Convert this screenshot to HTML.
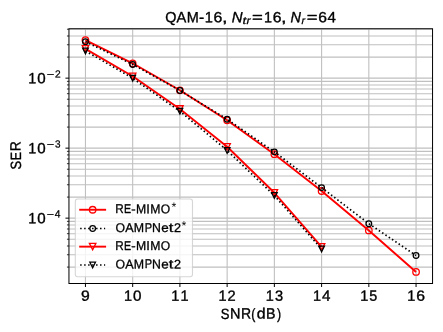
<!DOCTYPE html>
<html lang="en">
<head>
<meta charset="utf-8">
<title>QAM-16 SER vs SNR</title>
<style>
html,body{margin:0;padding:0;background:#ffffff;}
body{width:443px;height:332px;overflow:hidden;position:relative;font-family:"Liberation Sans",sans-serif;}
</style>
</head>
<body>
<svg width="443" height="332" viewBox="0 0 443 332" style="display:block;position:absolute;left:0;top:0;will-change:transform">
<rect x="0" y="0" width="443" height="332" fill="#ffffff"/>
<path d="M85.45 28.75V283.5M132.68 28.75V283.5M179.91 28.75V283.5M227.14 28.75V283.5M274.37 28.75V283.5M321.6 28.75V283.5M368.83 28.75V283.5M416.06 28.75V283.5M68.95 78.15H432.55M68.95 148.15H432.55M68.95 218.15H432.55M68.95 267.08H432.55M68.95 254.75H432.55M68.95 246.01H432.55M68.95 239.22H432.55M68.95 233.68H432.55M68.95 228.99H432.55M68.95 224.93H432.55M68.95 221.35H432.55M68.95 197.08H432.55M68.95 184.75H432.55M68.95 176.01H432.55M68.95 169.22H432.55M68.95 163.68H432.55M68.95 158.99H432.55M68.95 154.93H432.55M68.95 151.35H432.55M68.95 127.08H432.55M68.95 114.75H432.55M68.95 106.01H432.55M68.95 99.22H432.55M68.95 93.68H432.55M68.95 88.99H432.55M68.95 84.93H432.55M68.95 81.35H432.55M68.95 57.08H432.55M68.95 44.75H432.55M68.95 36.01H432.55M68.95 29.22H432.55" stroke="#c0c0c0" stroke-width="1.1" fill="none"/>
<path d="M85.45 283.5v3.5M132.68 283.5v3.5M179.91 283.5v3.5M227.14 283.5v3.5M274.37 283.5v3.5M321.6 283.5v3.5M368.83 283.5v3.5M416.06 283.5v3.5M68.95 78.15h-3.5M68.95 148.15h-3.5M68.95 218.15h-3.5" stroke="#000" stroke-width="1.0" fill="none"/>
<path d="M68.95 267.08h-2M68.95 254.75h-2M68.95 246.01h-2M68.95 239.22h-2M68.95 233.68h-2M68.95 228.99h-2M68.95 224.93h-2M68.95 221.35h-2M68.95 197.08h-2M68.95 184.75h-2M68.95 176.01h-2M68.95 169.22h-2M68.95 163.68h-2M68.95 158.99h-2M68.95 154.93h-2M68.95 151.35h-2M68.95 127.08h-2M68.95 114.75h-2M68.95 106.01h-2M68.95 99.22h-2M68.95 93.68h-2M68.95 88.99h-2M68.95 84.93h-2M68.95 81.35h-2M68.95 57.08h-2M68.95 44.75h-2M68.95 36.01h-2M68.95 29.22h-2" stroke="#000" stroke-width="0.8" fill="none"/>
<clipPath id="c"><rect x="68.95" y="28.75" width="363.6" height="254.75"/></clipPath>
<g clip-path="url(#c)"><polyline points="85.45,40.10 132.68,63.30 179.91,90.30 227.14,120.30 274.37,154.20 321.60,191.00 368.83,230.45 416.06,271.95" fill="none" stroke="#ff0000" stroke-width="1.9" stroke-linejoin="round"/><circle cx="85.45" cy="40.10" r="3.25" fill="none" stroke="#ff0000" stroke-width="1.3"/><circle cx="132.68" cy="63.30" r="3.25" fill="none" stroke="#ff0000" stroke-width="1.3"/><circle cx="179.91" cy="90.30" r="3.25" fill="none" stroke="#ff0000" stroke-width="1.3"/><circle cx="227.14" cy="120.30" r="3.25" fill="none" stroke="#ff0000" stroke-width="1.3"/><circle cx="274.37" cy="154.20" r="3.25" fill="none" stroke="#ff0000" stroke-width="1.3"/><circle cx="321.60" cy="191.00" r="3.25" fill="none" stroke="#ff0000" stroke-width="1.3"/><circle cx="368.83" cy="230.45" r="3.25" fill="none" stroke="#ff0000" stroke-width="1.3"/><circle cx="416.06" cy="271.95" r="3.25" fill="none" stroke="#ff0000" stroke-width="1.3"/></g>
<g clip-path="url(#c)"><polyline points="85.45,41.70 132.68,64.40 179.91,90.50 227.14,119.25 274.37,151.85 321.60,187.60 368.83,223.70 416.06,255.50" fill="none" stroke="#000000" stroke-width="1.7" stroke-linejoin="round" stroke-dasharray="1.5 2.475"/><circle cx="85.45" cy="41.70" r="2.825" fill="none" stroke="#000000" stroke-width="1.3"/><circle cx="132.68" cy="64.40" r="2.825" fill="none" stroke="#000000" stroke-width="1.3"/><circle cx="179.91" cy="90.50" r="2.825" fill="none" stroke="#000000" stroke-width="1.3"/><circle cx="227.14" cy="119.25" r="2.825" fill="none" stroke="#000000" stroke-width="1.3"/><circle cx="274.37" cy="151.85" r="2.825" fill="none" stroke="#000000" stroke-width="1.3"/><circle cx="321.60" cy="187.60" r="2.825" fill="none" stroke="#000000" stroke-width="1.3"/><circle cx="368.83" cy="223.70" r="2.825" fill="none" stroke="#000000" stroke-width="1.3"/><circle cx="416.06" cy="255.50" r="2.825" fill="none" stroke="#000000" stroke-width="1.3"/></g>
<g clip-path="url(#c)"><polyline points="85.45,48.90 132.68,76.30 179.91,109.00 227.14,146.80 274.37,192.80 321.60,246.80" fill="none" stroke="#ff0000" stroke-width="1.9" stroke-linejoin="round"/><path d="M82.20 45.65H88.70L85.45 52.15Z" fill="none" stroke="#ff0000" stroke-width="1.3" stroke-linejoin="miter"/><path d="M129.43 73.05H135.93L132.68 79.55Z" fill="none" stroke="#ff0000" stroke-width="1.3" stroke-linejoin="miter"/><path d="M176.66 105.75H183.16L179.91 112.25Z" fill="none" stroke="#ff0000" stroke-width="1.3" stroke-linejoin="miter"/><path d="M223.89 143.55H230.39L227.14 150.05Z" fill="none" stroke="#ff0000" stroke-width="1.3" stroke-linejoin="miter"/><path d="M271.12 189.55H277.62L274.37 196.05Z" fill="none" stroke="#ff0000" stroke-width="1.3" stroke-linejoin="miter"/><path d="M318.35 243.55H324.85L321.60 250.05Z" fill="none" stroke="#ff0000" stroke-width="1.3" stroke-linejoin="miter"/></g>
<g clip-path="url(#c)"><polyline points="85.45,50.90 132.68,78.30 179.91,111.20 227.14,150.40 274.37,195.50 321.60,249.00" fill="none" stroke="#000000" stroke-width="1.7" stroke-linejoin="round" stroke-dasharray="1.5 2.475"/><path d="M82.62 48.07H88.28L85.45 53.73Z" fill="none" stroke="#000000" stroke-width="1.3" stroke-linejoin="miter"/><path d="M129.86 75.47H135.50L132.68 81.12Z" fill="none" stroke="#000000" stroke-width="1.3" stroke-linejoin="miter"/><path d="M177.09 108.38H182.73L179.91 114.03Z" fill="none" stroke="#000000" stroke-width="1.3" stroke-linejoin="miter"/><path d="M224.31 147.58H229.96L227.14 153.22Z" fill="none" stroke="#000000" stroke-width="1.3" stroke-linejoin="miter"/><path d="M271.55 192.68H277.19L274.37 198.32Z" fill="none" stroke="#000000" stroke-width="1.3" stroke-linejoin="miter"/><path d="M318.77 246.18H324.42L321.60 251.82Z" fill="none" stroke="#000000" stroke-width="1.3" stroke-linejoin="miter"/></g>
<rect x="68.95" y="28.75" width="363.6" height="254.75" fill="none" stroke="#000" stroke-width="1.0"/>
<g font-family="Liberation Sans, sans-serif" fill="#000" stroke="#000" stroke-linejoin="round" text-rendering="geometricPrecision" stroke-width="0.36">
<text y="300.75" font-size="14.84" transform="rotate(0.03 81.0 300.8)"><tspan x="81.04" y="300.75" textLength="8.73" lengthAdjust="spacingAndGlyphs">9</tspan></text>
<text y="300.75" font-size="14.84" transform="rotate(0.03 124.0 300.8)"><tspan x="123.98" y="300.75" textLength="8.07" lengthAdjust="spacingAndGlyphs">1</tspan><tspan x="133.04" y="300.75" textLength="8.45" lengthAdjust="spacingAndGlyphs">0</tspan></text>
<text y="300.75" font-size="14.84" transform="rotate(0.03 171.2 300.8)"><tspan x="171.21" y="300.75" textLength="8.07" lengthAdjust="spacingAndGlyphs">1</tspan><tspan x="180.39" y="300.75" textLength="8.07" lengthAdjust="spacingAndGlyphs">1</tspan></text>
<text y="300.75" font-size="14.84" transform="rotate(0.03 218.4 300.8)"><tspan x="218.44" y="300.75" textLength="8.07" lengthAdjust="spacingAndGlyphs">1</tspan><tspan x="227.46" y="300.75" textLength="8.15" lengthAdjust="spacingAndGlyphs">2</tspan></text>
<text y="300.75" font-size="14.84" transform="rotate(0.03 265.7 300.8)"><tspan x="265.67" y="300.75" textLength="8.07" lengthAdjust="spacingAndGlyphs">1</tspan><tspan x="274.91" y="300.75" textLength="8.12" lengthAdjust="spacingAndGlyphs">3</tspan></text>
<text y="300.75" font-size="14.84" transform="rotate(0.03 312.9 300.8)"><tspan x="312.90" y="300.75" textLength="8.07" lengthAdjust="spacingAndGlyphs">1</tspan><tspan x="321.96" y="300.75" textLength="8.45" lengthAdjust="spacingAndGlyphs">4</tspan></text>
<text y="300.75" font-size="14.84" transform="rotate(0.03 360.1 300.8)"><tspan x="360.13" y="300.75" textLength="8.07" lengthAdjust="spacingAndGlyphs">1</tspan><tspan x="369.37" y="300.75" textLength="7.98" lengthAdjust="spacingAndGlyphs">5</tspan></text>
<text y="300.75" font-size="14.84" transform="rotate(0.03 407.4 300.8)"><tspan x="407.36" y="300.75" textLength="8.07" lengthAdjust="spacingAndGlyphs">1</tspan><tspan x="416.27" y="300.75" textLength="8.75" lengthAdjust="spacingAndGlyphs">6</tspan></text>
<text y="83.15" font-size="14.84" transform="rotate(0.03 28.4 83.2)"><tspan x="28.35" y="83.15" textLength="8.02" lengthAdjust="spacingAndGlyphs">1</tspan><tspan x="37.34" y="83.15" textLength="8.40" lengthAdjust="spacingAndGlyphs">0</tspan></text>
<text y="77.60" font-size="10.39" transform="rotate(0.03 46.7 77.6)" stroke-width="0.25"><tspan x="46.71" y="78.00" textLength="7.54" lengthAdjust="spacingAndGlyphs">−</tspan><tspan x="54.90" y="77.60" textLength="5.66" lengthAdjust="spacingAndGlyphs">2</tspan></text>
<text y="153.15" font-size="14.84" transform="rotate(0.03 28.4 153.2)"><tspan x="28.35" y="153.15" textLength="8.02" lengthAdjust="spacingAndGlyphs">1</tspan><tspan x="37.34" y="153.15" textLength="8.40" lengthAdjust="spacingAndGlyphs">0</tspan></text>
<text y="147.60" font-size="10.39" transform="rotate(0.03 46.7 147.6)" stroke-width="0.25"><tspan x="46.72" y="148.00" textLength="7.42" lengthAdjust="spacingAndGlyphs">−</tspan><tspan x="54.94" y="147.60" textLength="5.55" lengthAdjust="spacingAndGlyphs">3</tspan></text>
<text y="223.15" font-size="14.84" transform="rotate(0.03 28.4 223.2)"><tspan x="28.35" y="223.15" textLength="8.02" lengthAdjust="spacingAndGlyphs">1</tspan><tspan x="37.34" y="223.15" textLength="8.40" lengthAdjust="spacingAndGlyphs">0</tspan></text>
<text y="217.60" font-size="10.39" transform="rotate(0.03 46.7 217.6)" stroke-width="0.25"><tspan x="46.73" y="218.00" textLength="7.28" lengthAdjust="spacingAndGlyphs">−</tspan><tspan x="54.67" y="217.60" textLength="5.68" lengthAdjust="spacingAndGlyphs">4</tspan></text>
<text y="318.60" font-size="14.84" transform="rotate(0.03 220.8 318.6)"><tspan x="220.76" y="318.60" textLength="8.71" lengthAdjust="spacingAndGlyphs">S</tspan><tspan x="229.94" y="318.60" textLength="10.45" lengthAdjust="spacingAndGlyphs">N</tspan><tspan x="240.93" y="318.60" textLength="10.12" lengthAdjust="spacingAndGlyphs">R</tspan><tspan x="251.32" y="318.60" textLength="4.12" lengthAdjust="spacingAndGlyphs">(</tspan><tspan x="256.68" y="318.60" textLength="8.86" lengthAdjust="spacingAndGlyphs">d</tspan><tspan x="266.11" y="318.60" textLength="9.49" lengthAdjust="spacingAndGlyphs">B</tspan><tspan x="276.99" y="318.60" textLength="4.12" lengthAdjust="spacingAndGlyphs">)</tspan></text>
<text y="0.00" font-size="14.84" transform="translate(20.55,169.15) rotate(-90.03)"><tspan x="-0.34" y="0.00" textLength="8.63" lengthAdjust="spacingAndGlyphs">S</tspan><tspan x="8.90" y="0.00" textLength="8.39" lengthAdjust="spacingAndGlyphs">E</tspan><tspan x="17.97" y="0.00" textLength="10.03" lengthAdjust="spacingAndGlyphs">R</tspan></text>
<text y="22.30" font-size="14.84" transform="rotate(0.03 165.2 22.3)"><tspan x="165.17" y="22.30" textLength="11.17" lengthAdjust="spacingAndGlyphs">Q</tspan><tspan x="176.55" y="22.30" textLength="9.76" lengthAdjust="spacingAndGlyphs">A</tspan><tspan x="186.64" y="22.30" textLength="12.06" lengthAdjust="spacingAndGlyphs">M</tspan><tspan x="198.94" y="22.30" textLength="5.21" lengthAdjust="spacingAndGlyphs">-</tspan><tspan x="204.65" y="22.30" textLength="8.13" lengthAdjust="spacingAndGlyphs">1</tspan><tspan x="213.62" y="22.30" textLength="8.81" lengthAdjust="spacingAndGlyphs">6</tspan><tspan x="222.03" y="22.30" textLength="5.57" lengthAdjust="spacingAndGlyphs">,</tspan></text>
<text y="22.30" font-size="14.84" font-style="italic" transform="rotate(0.03 231.7 22.3)"><tspan x="231.69" y="22.30" textLength="10.86" lengthAdjust="spacingAndGlyphs">N</tspan></text>
<text y="23.90" font-size="10.39" font-style="italic" transform="rotate(0.03 242.5 23.9)" stroke-width="0.25"><tspan x="242.48" y="23.90" textLength="3.78" lengthAdjust="spacingAndGlyphs">t</tspan><tspan x="246.57" y="23.90" textLength="4.11" lengthAdjust="spacingAndGlyphs">r</tspan></text>
<text y="22.30" font-size="14.84" transform="rotate(0.03 252.0 22.3)"><tspan x="252.05" y="22.30" textLength="10.82" lengthAdjust="spacingAndGlyphs">=</tspan><tspan x="263.96" y="22.30" textLength="8.05" lengthAdjust="spacingAndGlyphs">1</tspan><tspan x="272.84" y="22.30" textLength="8.73" lengthAdjust="spacingAndGlyphs">6</tspan><tspan x="281.14" y="22.30" textLength="5.57" lengthAdjust="spacingAndGlyphs">,</tspan></text>
<text y="22.30" font-size="14.84" font-style="italic" transform="rotate(0.03 290.4 22.3)"><tspan x="290.41" y="22.30" textLength="10.44" lengthAdjust="spacingAndGlyphs">N</tspan></text>
<text y="23.90" font-size="10.39" font-style="italic" transform="rotate(0.03 301.5 23.9)" stroke-width="0.25"><tspan x="301.52" y="23.90" textLength="3.61" lengthAdjust="spacingAndGlyphs">r</tspan></text>
<text y="22.30" font-size="14.84" transform="rotate(0.03 306.7 22.3)"><tspan x="306.75" y="22.30" textLength="10.78" lengthAdjust="spacingAndGlyphs">=</tspan><tspan x="318.34" y="22.30" textLength="8.69" lengthAdjust="spacingAndGlyphs">6</tspan><tspan x="327.60" y="22.30" textLength="8.40" lengthAdjust="spacingAndGlyphs">4</tspan></text>
</g>
<rect x="75.3" y="199.05" width="117.2" height="77.65" rx="2.4" ry="2.4" fill="#ffffff" fill-opacity="0.8" stroke="#cccccc" stroke-opacity="0.8" stroke-width="1.1"/>
<path d="M80.15 209.75H105.15" stroke="#ff0000" stroke-width="1.9" fill="none" stroke-linecap="square"/><circle cx="92.65" cy="209.75" r="3.25" fill="none" stroke="#ff0000" stroke-width="1.3"/>
<path d="M80.15 228.5H105.15" stroke="#000000" stroke-width="1.7" fill="none" stroke-dasharray="1.5 2.475"/><circle cx="92.65" cy="228.50" r="2.825" fill="none" stroke="#000000" stroke-width="1.3"/>
<path d="M80.15 246.65H105.15" stroke="#ff0000" stroke-width="1.9" fill="none" stroke-linecap="square"/><path d="M89.40 243.40H95.90L92.65 249.90Z" fill="none" stroke="#ff0000" stroke-width="1.3" stroke-linejoin="miter"/>
<path d="M80.15 265.0H105.15" stroke="#000000" stroke-width="1.7" fill="none" stroke-dasharray="1.5 2.475"/><path d="M89.83 262.18H95.48L92.65 267.82Z" fill="none" stroke="#000000" stroke-width="1.3" stroke-linejoin="miter"/>
<g font-family="Liberation Sans, sans-serif" fill="#000" stroke="#000" stroke-linejoin="round" text-rendering="geometricPrecision" stroke-width="0.32">
<text y="213.20" font-size="12.72" transform="rotate(0.03 115.3 213.2)"><tspan x="115.34" y="213.20" textLength="8.46" lengthAdjust="spacingAndGlyphs">R</tspan><tspan x="123.94" y="213.20" textLength="7.08" lengthAdjust="spacingAndGlyphs">E</tspan><tspan x="131.37" y="213.20" textLength="4.40" lengthAdjust="spacingAndGlyphs">-</tspan><tspan x="135.98" y="213.20" textLength="10.18" lengthAdjust="spacingAndGlyphs">M</tspan><tspan x="146.36" y="213.20" textLength="3.60" lengthAdjust="spacingAndGlyphs">I</tspan><tspan x="150.17" y="213.20" textLength="10.18" lengthAdjust="spacingAndGlyphs">M</tspan><tspan x="160.66" y="213.20" textLength="9.42" lengthAdjust="spacingAndGlyphs">O</tspan></text>
<text y="231.95" font-size="12.72" transform="rotate(0.03 115.4 231.9)"><tspan x="115.42" y="231.95" textLength="9.56" lengthAdjust="spacingAndGlyphs">O</tspan><tspan x="125.16" y="231.95" textLength="8.35" lengthAdjust="spacingAndGlyphs">A</tspan><tspan x="133.79" y="231.95" textLength="10.33" lengthAdjust="spacingAndGlyphs">M</tspan><tspan x="144.63" y="231.95" textLength="7.33" lengthAdjust="spacingAndGlyphs">P</tspan><tspan x="152.03" y="231.95" textLength="8.87" lengthAdjust="spacingAndGlyphs">N</tspan><tspan x="161.23" y="231.95" textLength="7.47" lengthAdjust="spacingAndGlyphs">e</tspan><tspan x="168.84" y="231.95" textLength="4.62" lengthAdjust="spacingAndGlyphs">t</tspan><tspan x="173.91" y="231.95" textLength="7.02" lengthAdjust="spacingAndGlyphs">2</tspan></text>
<text y="250.10" font-size="12.72" transform="rotate(0.03 115.3 250.1)"><tspan x="115.34" y="250.10" textLength="8.46" lengthAdjust="spacingAndGlyphs">R</tspan><tspan x="123.94" y="250.10" textLength="7.08" lengthAdjust="spacingAndGlyphs">E</tspan><tspan x="131.37" y="250.10" textLength="4.40" lengthAdjust="spacingAndGlyphs">-</tspan><tspan x="135.98" y="250.10" textLength="10.18" lengthAdjust="spacingAndGlyphs">M</tspan><tspan x="146.36" y="250.10" textLength="3.60" lengthAdjust="spacingAndGlyphs">I</tspan><tspan x="150.17" y="250.10" textLength="10.18" lengthAdjust="spacingAndGlyphs">M</tspan><tspan x="160.66" y="250.10" textLength="9.42" lengthAdjust="spacingAndGlyphs">O</tspan></text>
<text y="268.45" font-size="12.72" transform="rotate(0.03 115.4 268.4)"><tspan x="115.42" y="268.45" textLength="9.56" lengthAdjust="spacingAndGlyphs">O</tspan><tspan x="125.16" y="268.45" textLength="8.35" lengthAdjust="spacingAndGlyphs">A</tspan><tspan x="133.79" y="268.45" textLength="10.33" lengthAdjust="spacingAndGlyphs">M</tspan><tspan x="144.63" y="268.45" textLength="7.33" lengthAdjust="spacingAndGlyphs">P</tspan><tspan x="152.03" y="268.45" textLength="8.87" lengthAdjust="spacingAndGlyphs">N</tspan><tspan x="161.23" y="268.45" textLength="7.47" lengthAdjust="spacingAndGlyphs">e</tspan><tspan x="168.84" y="268.45" textLength="4.62" lengthAdjust="spacingAndGlyphs">t</tspan><tspan x="173.91" y="268.45" textLength="7.02" lengthAdjust="spacingAndGlyphs">2</tspan></text>
</g>
<g font-family="Liberation Sans, sans-serif" fill="#000" stroke="#000" stroke-linejoin="round" text-rendering="geometricPrecision" stroke-width="0">
<text x="171.38" y="211.00" font-size="12.4" transform="rotate(0.03 171.4 211.0)">*</text>
<text x="181.53" y="229.75" font-size="12.4" transform="rotate(0.03 181.5 229.8)">*</text>
</g>
</svg>
</body>
</html>
